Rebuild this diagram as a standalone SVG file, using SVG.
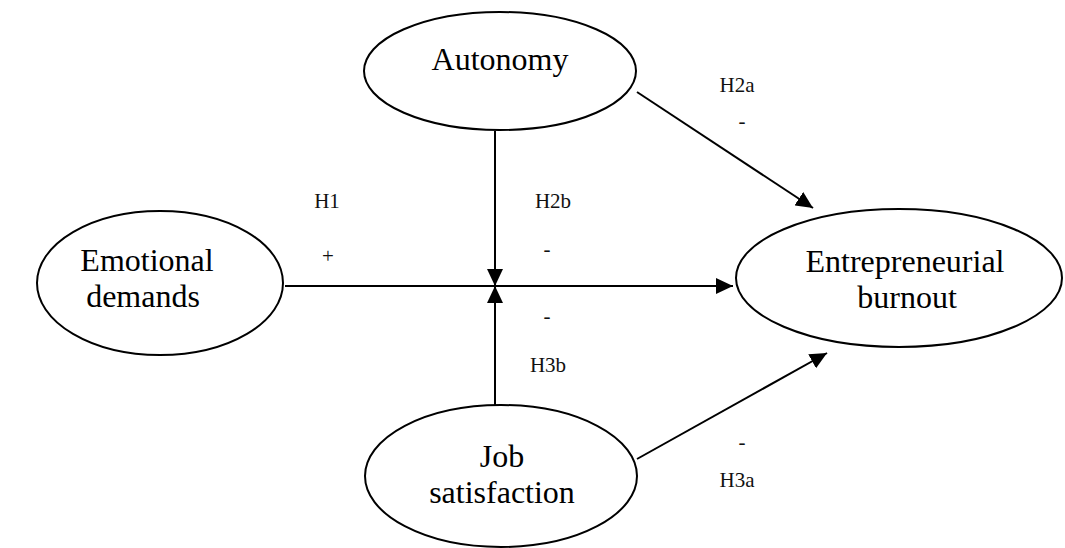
<svg xmlns="http://www.w3.org/2000/svg" width="1065" height="548" viewBox="0 0 1065 548">
<style>
.node ellipse{fill:#fff;stroke:#000;stroke-width:2}
.big{font-family:"Liberation Serif","Times New Roman",serif;font-size:32px;fill:#000;text-anchor:middle}
.lbl{font-family:"Liberation Serif","Times New Roman",serif;font-size:21px;fill:#111;text-anchor:middle}
.edge{stroke:#000;stroke-width:2;fill:none}
</style>
<defs>
<marker id="arr" markerUnits="userSpaceOnUse" markerWidth="18" markerHeight="16" refX="17" refY="8" orient="auto">
<path d="M0,0 L17,8 L0,16 Z" fill="#000"/>
</marker>
</defs>
<rect width="1065" height="548" fill="#fff"/>
<g id="connectors">
<line class="edge" x1="285" y1="286" x2="733" y2="286" marker-end="url(#arr)"/>
<line class="edge" x1="495" y1="131" x2="495" y2="286" marker-end="url(#arr)"/>
<line class="edge" x1="495" y1="405" x2="495" y2="286" marker-end="url(#arr)"/>
<line class="edge" x1="637" y1="92" x2="813" y2="208" marker-end="url(#arr)"/>
<line class="edge" x1="637" y1="459" x2="827" y2="353" marker-end="url(#arr)"/>
</g>
<g id="labels">
<text class="lbl" x="737" y="92">H2a</text>
<text class="lbl" x="742" y="128">-</text>
<text class="lbl" x="327" y="208">H1</text>
<text class="lbl" x="328" y="263">+</text>
<text class="lbl" x="553" y="208">H2b</text>
<text class="lbl" x="547" y="256">-</text>
<text class="lbl" x="547" y="323">-</text>
<text class="lbl" x="548" y="372">H3b</text>
<text class="lbl" x="742" y="449">-</text>
<text class="lbl" x="737" y="487">H3a</text>
</g>
<g id="autonomy" class="node">
<ellipse cx="500" cy="71" rx="136" ry="59"/>
<text class="big" x="500" y="70">Autonomy</text>
</g>
<g id="emotional-demands" class="node">
<ellipse cx="160" cy="283" rx="123" ry="72"/>
<text class="big" x="147" y="271">Emotional</text>
<text class="big" x="143" y="307">demands</text>
</g>
<g id="entrepreneurial-burnout" class="node">
<ellipse cx="899" cy="278" rx="163" ry="69"/>
<text class="big" x="905" y="272">Entrepreneurial</text>
<text class="big" x="907" y="308">burnout</text>
</g>
<g id="job-satisfaction" class="node">
<ellipse cx="501" cy="476" rx="136" ry="71"/>
<text class="big" x="502" y="467">Job</text>
<text class="big" x="502" y="503">satisfaction</text>
</g>
</svg>
